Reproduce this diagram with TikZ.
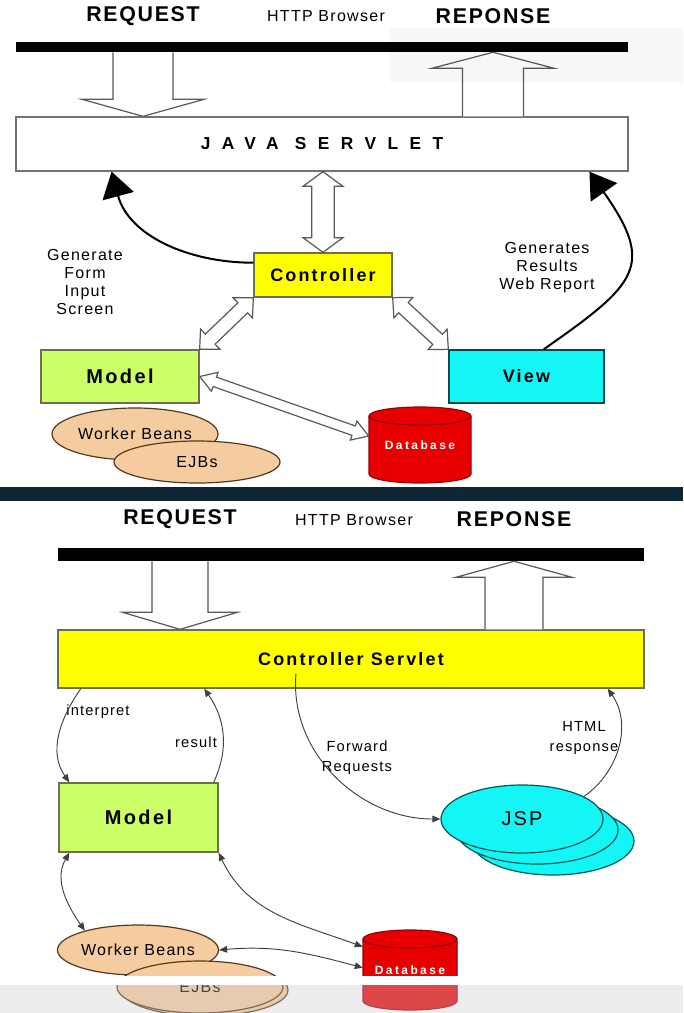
\documentclass[tikz,border=0pt]{standalone}
\usepackage{fontspec}
\setmainfont{Liberation Sans}
\usepackage{tikz}
\usetikzlibrary{arrows.meta}
\usetikzlibrary{calc}
\usetikzlibrary{shapes.geometric}

\definecolor{slideyellow}{RGB}{255,255,0}
\definecolor{modelgreen}{RGB}{204,255,102}
\definecolor{viewcyan}{RGB}{20,245,245}
\definecolor{beantan}{RGB}{245,203,160}
\definecolor{dbred}{RGB}{232,0,0}
\definecolor{dbedge}{RGB}{150,0,10}
\definecolor{boxedge}{RGB}{110,110,80}
\definecolor{divider}{RGB}{14,37,51}

\tikzset{
  banner/.style={font=\fontsize{16}{19}\selectfont\bfseries\addfontfeatures{LetterSpace=8}},
  note/.style={font=\fontsize{12}{13.5}\selectfont\addfontfeatures{LetterSpace=8},align=center},
  smallnote/.style={font=\fontsize{11}{15}\selectfont\addfontfeatures{LetterSpace=8},align=center},
  box/.style={draw=boxedge,line width=1pt,inner sep=0pt,
    font=\fontsize{13.5}{16}\selectfont\bfseries\addfontfeatures{LetterSpace=12}},
  bigbox/.style={font=\fontsize{15}{18}\selectfont\bfseries\addfontfeatures{LetterSpace=12}},
  bar/.style={fill=black,inner sep=0pt},
  blockline/.style={draw=black!65,fill=white,line width=0.9pt,line join=miter},
  bean/.style={ellipse,draw=black!55!brown,fill=beantan,line width=0.9pt,inner sep=0pt,note},
  jsp/.style={ellipse,draw=teal!70!black,fill=viewcyan,line width=0.9pt,inner sep=0pt,
    minimum width=121.5pt,minimum height=51pt},
  dbtext/.style={inner sep=0pt,text=white,font=\fontsize{9}{11}\selectfont\bfseries\addfontfeatures{LetterSpace=20}},
  bigarc/.style={line width=1.5pt,-{Triangle[length=19pt,width=24pt]}},
  thinarc/.style={draw=black!75,line width=0.7pt,>={Triangle[length=6pt,width=5pt]},->},
}

\newcommand\hollowarrow[5]{%
  \coordinate (hbase) at ($(#2)!#5!(#1)$);
  \draw[blockline] ($(#1)!#3!90:(#2)$) -- ($(hbase)!#3!90:(#2)$) -- ($(hbase)!#4!90:(#2)$) -- (#2)
    -- ($(hbase)!#4!-90:(#2)$) -- ($(hbase)!#3!-90:(#2)$) -- ($(#1)!#3!-90:(#2)$);
}
\newcommand\hollowdarrow[5]{%
  \coordinate (hbase) at ($(#1)!#5!(#2)$);
  \coordinate (hend) at ($(#2)!#5!(#1)$);
  \draw[blockline] (#1) -- ($(hbase)!#4!90:(#2)$) -- ($(hbase)!#3!90:(#2)$) -- ($(hend)!#3!90:(#2)$)
    -- ($(hend)!#4!90:(#2)$) -- (#2) -- ($(hend)!#4!-90:(#2)$) -- ($(hend)!#3!-90:(#2)$)
    -- ($(hbase)!#3!-90:(#2)$) -- ($(hbase)!#4!-90:(#2)$) -- cycle;
}
\newcommand\dbcylinder[4]{%
  \path[fill=dbred,draw=dbedge,line width=0.9pt]
    ($(#1)+(-#2,#3-#4)$) -- ($(#1)+(-#2,-#3+#4)$) arc[start angle=180,end angle=360,x radius=#2,y radius=#4]
    -- ($(#1)+(#2,#3-#4)$) arc[start angle=0,end angle=180,x radius=#2,y radius=#4] -- cycle;
  \draw[dbedge,line width=0.9pt] ($(#1)+(-#2,#3-#4)$) arc[start angle=180,end angle=360,x radius=#2,y radius=#4];
}

\begin{document}
\begin{tikzpicture}[x=0.75pt,y=0.75pt]
    \useasboundingbox (0,0) rectangle (683,-1013);
    \fill[white] (0,0) rectangle (683,-1013);

    \node[banner] (reqlbl1) at (143,-16) {REQUEST};
    \node[note] (http1) at (326,-16) {HTTP Browser};
    \node[banner] (resplbl1) at (493,-16) {REPONSE};
    \node[bar,minimum width=459pt,minimum height=7.5pt] (bar1) at (322,-47) {};
    \node[box,draw=black!55,fill=white,minimum width=459pt,minimum height=40.5pt,
      font=\fontsize{13}{16}\selectfont\bfseries\addfontfeatures{LetterSpace=66}] (servlet1) at (322,-144) {JAVA SERVLET};
    \node[box,fill=slideyellow,minimum width=103.5pt,minimum height=33pt] (controller1) at (323,-275) {Controller};
    \node[box,bigbox,fill=modelgreen,minimum width=118.5pt,minimum height=39.75pt] (model1) at (120,-376.5) {Model};
    \node[box,draw=teal!60!black,fill=viewcyan,minimum width=116.25pt,minimum height=39.75pt] (view1) at (526.5,-376.5) {View};
    \node[note] (gen1) at (85,-282) {Generate\\Form\\ Input\\Screen};
    \node[note] (gen2) at (547,-268) {Generates\\Results\\Web Report};
    \node[bean,minimum width=124.5pt,minimum height=39pt] (beans1) at (135,-434) {Worker Beans};
    \node[bean,minimum width=124.5pt,minimum height=31.5pt] (ejb1) at (197,-462) {EJBs};
    \coordinate (db1c) at (420,-445);
    \dbcylinder{db1c}{51}{38}{9}
    \node[dbtext,minimum width=76.5pt,minimum height=57pt] (db1) at (db1c) {Database};

    \hollowarrow{reqlbl1 |- bar1.south}{reqlbl1 |- servlet1.north}{22.5pt}{45.75pt}{12.75pt}
    \hollowarrow{resplbl1 |- servlet1.north}{resplbl1 |- bar1.south}{22.9pt}{45.75pt}{12pt}
    \hollowdarrow{servlet1.south -| controller1.north}{controller1.north}{8.5pt}{15pt}{11pt}
    \hollowdarrow{controller1.south west}{model1.north east}{5.25pt}{10.5pt}{11pt}
    \hollowdarrow{controller1.south east}{view1.north west}{5.25pt}{10.5pt}{11pt}
    \hollowdarrow{model1.east}{db1.170}{3.75pt}{7.5pt}{12pt}
    \draw[bigarc] (controller1.170) to[out=180,in=-75] ($(servlet1.south west)!0.157!(servlet1.south east)$);
    \draw[bigarc] ($(view1.north west)!0.61!(view1.north east)$) to[out=35,in=-55,looseness=1.6]
      ($(servlet1.south west)!0.936!(servlet1.south east)$);

    \fill[divider] (0,-487) rectangle (683,-501);

    \node[banner] (reqlbl2) at (180,-519) {REQUEST};
    \node[note] (http2) at (354,-520) {HTTP Browser};
    \node[banner] (resplbl2) at (514,-519) {REPONSE};
    \node[bar,minimum width=439.5pt,minimum height=9.75pt] (bar2) at (351,-554.5) {};
    \node[box,fill=slideyellow,minimum width=439.5pt,minimum height=43.5pt] (servlet2) at (351,-659) {Controller Servlet};
    \node[box,bigbox,fill=modelgreen,minimum width=119.25pt,minimum height=51.75pt] (model2) at (138.5,-817.5) {Model};
    \node[jsp] (jsp3) at (553,-841) {};
    \node[jsp] (jsp2) at (537,-830) {};
    \node[jsp,font=\fontsize{15}{18}\selectfont\addfontfeatures{LetterSpace=10}] (jsp1) at (522,-819) {JSP};
    \node[bean,minimum width=120pt,minimum height=37.5pt] (beans2) at (138,-950) {Worker Beans};
    \node[bean,minimum width=124.5pt,minimum height=39pt] (ejb2b) at (205,-990) {};
    \node[bean,minimum width=124.5pt,minimum height=39pt] (ejb2) at (200,-987) {EJBs};
    \coordinate (db2c) at (410,-970);
    \dbcylinder{db2c}{47}{40}{9}
    \node[dbtext,minimum width=70.5pt,minimum height=60pt] (db2) at (db2c) {Database};

    \hollowarrow{reqlbl2 |- bar2.south}{reqlbl2 |- servlet2.north}{21pt}{43pt}{12.75pt}
    \hollowarrow{resplbl2 |- servlet2.north}{resplbl2 |- bar2.south}{21.75pt}{43.5pt}{12pt}

    \node[smallnote] (interp) at (98,-712) {interpret};
    \node[smallnote] (result) at (196,-742) {result};
    \node[smallnote] (fwd) at (357,-758) {Forward\\Requests};
    \node[smallnote] (html) at (584,-738) {HTML\\response};
    \draw[thinarc] ($(servlet2.south west)!0.04!(servlet2.south east)$) to[out=235,in=125] ($(model2.north west)+(11,0)$);
    \draw[thinarc] ($(model2.north east)+(-5,0)$) to[out=65,in=-55] ($(servlet2.south west)!0.25!(servlet2.south east)$);
    \draw[thinarc] ($(servlet2.south)+(-55,15)$) to[out=-95,in=180] (jsp1.west);
    \draw[thinarc] (jsp1.20) to[out=35,in=-55] ($(servlet2.south west)!0.937!(servlet2.south east)$);
    \draw[thinarc,<->] ($(model2.south west)+(11,0)$) to[out=240,in=125] (beans2.160);
    \draw[thinarc,<->] (model2.south east) to[out=-65,in=160] ($(db2.north west)+(0,-17)$);
    \draw[thinarc,<->] (beans2.east) to[out=5,in=165] ($(db2.north west)+(0,-38)$);

    \fill[black,opacity=0.03] (390,-28) rectangle (683,-82);
    \fill[white] (0,-976) rectangle (683,-985);
    \fill[black!20,opacity=0.35] (0,-985) rectangle (683,-1013);
\end{tikzpicture}
\end{document}
